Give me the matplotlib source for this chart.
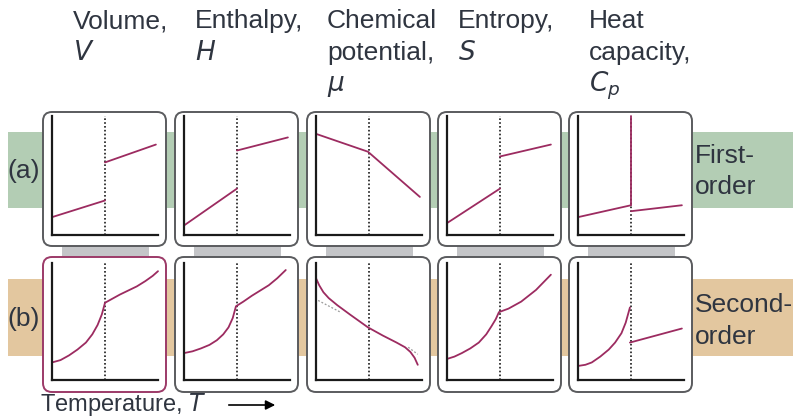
import matplotlib
matplotlib.use("Agg")
import matplotlib.pyplot as plt
from matplotlib.patches import FancyBboxPatch, Rectangle

plt.rcParams['font.family'] = ['Liberation Sans', 'DejaVu Sans']

W, H = 793, 417

# ---------------- data (fractions of each panel's axes) ----------------
headers = [["Volume,", "$\\mathit{V}$"],
           ["Enthalpy,", "$\\mathit{H}$"],
           ["Chemical", "potential,", "$\\mu$"],
           ["Entropy,", "$\\mathit{S}$"],
           ["Heat", "capacity,", "$\\mathit{C}_{\\mathit{p}}$"]]
row_labels = ["(a)", "(b)"]
order_labels = [["First-", "order"], ["Second-", "order"]]
x_label = "Temperature, $\\mathit{T}$"

# first-order transitions
T_lo = [0.0, 0.5]
T_hi = [0.5, 0.98]
V1_lo = [0.15, 0.29]; V1_hi = [0.61, 0.76]
H1_lo = [0.08, 0.39]; H1_hi = [0.71, 0.82]
T_mu1 = [0.0, 0.49, 0.98]; mu1 = [0.85, 0.70, 0.32]
S1_lo = [0.10, 0.39]; S1_hi = [0.66, 0.76]
Cp1_lo = [0.15, 0.25]; Cp1_hi = [0.20, 0.25]; Cp1_spike = [0.25, 1.0]

# second-order transitions
T_V2 = [0.0, 0.08, 0.16, 0.24, 0.32, 0.38, 0.43, 0.47, 0.50, 0.56, 0.64, 0.72, 0.80, 0.88, 0.95, 1.0]
V2 = [0.15, 0.17, 0.21, 0.26, 0.32, 0.39, 0.47, 0.56, 0.66, 0.69, 0.73, 0.765, 0.80, 0.845, 0.89, 0.93]
T_H2 = [0.0, 0.08, 0.16, 0.24, 0.31, 0.37, 0.42, 0.46, 0.49, 0.56, 0.64, 0.72, 0.80, 0.88, 0.96]
H2 = [0.23, 0.245, 0.27, 0.30, 0.34, 0.39, 0.45, 0.53, 0.63, 0.67, 0.72, 0.765, 0.81, 0.87, 0.94]
T_mu2 = [0.0, 0.03, 0.07, 0.12, 0.20, 0.32, 0.49, 0.63, 0.76, 0.84, 0.89, 0.93, 0.96]
mu2 = [0.87, 0.81, 0.75, 0.70, 0.64, 0.56, 0.45, 0.38, 0.32, 0.28, 0.24, 0.19, 0.13]
T_mu2_ext_l = [0.02, 0.23]; mu2_ext_l = [0.68, 0.58]
T_mu2_ext_r = [0.87, 0.96]; mu2_ext_r = [0.28, 0.22]
T_S2 = [0.0, 0.07, 0.14, 0.22, 0.30, 0.37, 0.42, 0.46, 0.49, 0.58, 0.70, 0.84, 0.98]
S2 = [0.18, 0.20, 0.23, 0.27, 0.32, 0.39, 0.46, 0.52, 0.58, 0.61, 0.67, 0.77, 0.90]
T_Cp2_lo = [0.0, 0.07, 0.13, 0.21, 0.29, 0.35, 0.41, 0.45, 0.49]
Cp2_lo = [0.12, 0.13, 0.15, 0.20, 0.26, 0.32, 0.40, 0.49, 0.62]
T_Cp2_hi = [0.49, 0.98]
Cp2_hi = [0.32, 0.44]

# ---------------- styling ----------------
TXT = '#2f3540'
CURVE = '#9c2b60'
GREEN = '#b3cdb4'
TAN = '#e3c79f'
CONN = '#c4c5c8'
EDGE = '#5a5b5e'
FS = 19

fig = plt.figure(figsize=(W / 100, H / 100), dpi=100)
bg = fig.add_axes([0, 0, 1, 1])
bg.set_xlim(0, W); bg.set_ylim(H, 0); bg.axis('off')

box_left = [43, 175, 307, 438, 569]
box_w = 123
rows = [dict(top=112, bot=246, itop=116, ibot=235, band=(132, 208), col=GREEN),
        dict(top=257, bot=392, itop=263, ibot=380, band=(279, 356), col=TAN)]

# bands
for r in rows:
    b0, b1 = r['band']
    bg.add_patch(Rectangle((8, b0), W - 8, b1 - b0, facecolor=r['col'], edgecolor='none', zorder=0))

# connectors
for xl in box_left:
    bg.add_patch(Rectangle((xl + 19, 244), box_w - 36, 14, facecolor=CONN, edgecolor='none', zorder=1))

# boxes
for ri, r in enumerate(rows):
    for ci, xl in enumerate(box_left):
        ec = '#9c3a68' if (ri == 1 and ci == 0) else EDGE
        bg.add_patch(FancyBboxPatch((xl, r['top']), box_w, r['bot'] - r['top'],
                                    boxstyle="round,pad=0,rounding_size=9",
                                    facecolor='white', edgecolor=ec, linewidth=1.4, zorder=2))

# headers
baselines = [28, 60, 91]
for ci, lines in enumerate(headers):
    x = box_left[ci] + 30 if ci == 0 else box_left[ci] + 20
    for li, t in enumerate(lines):
        bg.text(x, baselines[li], t, fontsize=FS, color=TXT, va='baseline', ha='left')

# row labels
bg.text(7, 171, row_labels[0], fontsize=FS, color=TXT, va='center', ha='left')
bg.text(7, 319, row_labels[1], fontsize=FS, color=TXT, va='center', ha='left')
bg.text(695, 163, order_labels[0][0], fontsize=FS, color=TXT, va='baseline', ha='left')
bg.text(695, 194, order_labels[0][1], fontsize=FS, color=TXT, va='baseline', ha='left')
bg.text(695, 312, order_labels[1][0], fontsize=FS, color=TXT, va='baseline', ha='left')
bg.text(695, 344, order_labels[1][1], fontsize=FS, color=TXT, va='baseline', ha='left')

bg.text(40, 411, x_label, fontsize=17, color=TXT, va='baseline', ha='left')
bg.annotate("", xy=(278, 405), xytext=(226, 405),
            arrowprops=dict(arrowstyle='-|>', color='black', lw=1.2, mutation_scale=14))


def panel(ri, ci):
    r = rows[ri]
    x0 = box_left[ci] + 9
    x1 = box_left[ci] + 115
    ax = fig.add_axes([x0 / W, 1 - r['ibot'] / H, (x1 - x0) / W, (r['ibot'] - r['itop']) / H])
    ax.set_xlim(0, 1); ax.set_ylim(0, 1)
    ax.patch.set_alpha(0)
    for s in ['top', 'right']:
        ax.spines[s].set_visible(False)
    for s in ['left', 'bottom']:
        ax.spines[s].set_linewidth(1.6)
        ax.spines[s].set_color('#1a1a1a')
    ax.set_xticks([]); ax.set_yticks([])
    ax.plot([0.5, 0.5], [0, 1], color='#1a1a1a', ls=(0, (1, 1.3)), lw=1.2)
    return ax


kw = dict(color=CURVE, lw=1.3, clip_on=False, solid_capstyle='round', solid_joinstyle='round')

ax = panel(0, 0); ax.plot(T_lo, V1_lo, **kw); ax.plot(T_hi, V1_hi, **kw)
ax = panel(0, 1); ax.plot(T_lo, H1_lo, **kw); ax.plot(T_hi, H1_hi, **kw)
ax = panel(0, 2); ax.plot(T_mu1, mu1, **kw)
ax = panel(0, 3); ax.plot(T_lo, S1_lo, **kw); ax.plot(T_hi, S1_hi, **kw)
ax = panel(0, 4); ax.plot(T_lo, Cp1_lo, **kw); ax.plot(T_hi, Cp1_hi, **kw)
ax.plot([0.5, 0.5], Cp1_spike, **kw)

ax = panel(1, 0); ax.plot(T_V2, V2, **kw)
ax = panel(1, 1); ax.plot(T_H2, H2, **kw)
ax = panel(1, 2); ax.plot(T_mu2, mu2, **kw)
ax.plot(T_mu2_ext_l, mu2_ext_l, color='#9a9a9a', lw=0.9, ls=(0, (1.5, 1.5)))
ax.plot(T_mu2_ext_r, mu2_ext_r, color='#9a9a9a', lw=0.9, ls=(0, (1.5, 1.5)))
ax = panel(1, 3); ax.plot(T_S2, S2, **kw)
ax = panel(1, 4); ax.plot(T_Cp2_lo, Cp2_lo, **kw); ax.plot(T_Cp2_hi, Cp2_hi, **kw)

fig.savefig("out.png", dpi=100)
